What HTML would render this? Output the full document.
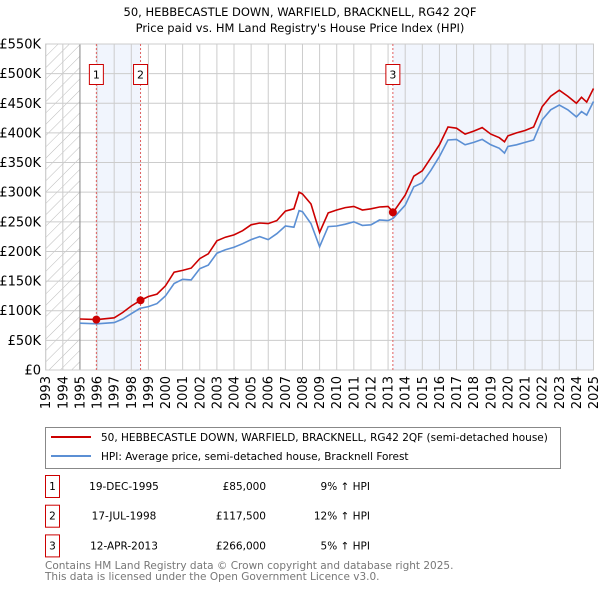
<!DOCTYPE html>
<html><head><meta charset="utf-8"><style>
html,body{margin:0;padding:0;background:#fff;}
svg{display:block;font-family:"DejaVu Sans","Liberation Sans",sans-serif;}
</style></head><body>
<svg id="chart" width="600" height="590" viewBox="0 0 600 590">
<defs>
<pattern id="hatch" patternUnits="userSpaceOnUse" width="8" height="8" patternTransform="rotate(45)">
<line x1="0" y1="0" x2="0" y2="8" stroke="#bbb" stroke-width="1"/>
</pattern>
</defs>
<text x="300" y="16" text-anchor="middle" font-size="11.5">50, HEBBECASTLE DOWN, WARFIELD, BRACKNELL, RG42 2QF</text>
<text x="300" y="32" text-anchor="middle" font-size="11.5">Price paid vs. HM Land Registry's House Price Index (HPI)</text>
<g id="plot"></g>
<g id="legend">
<rect x="45.5" y="427.5" width="515" height="41" fill="#fff" stroke="#888"/>
<line x1="51" y1="437" x2="91" y2="437" stroke="#cc0000" stroke-width="2"/>
<text x="101" y="441" font-size="10.5">50, HEBBECASTLE DOWN, WARFIELD, BRACKNELL, RG42 2QF (semi-detached house)</text>
<line x1="51" y1="456" x2="91" y2="456" stroke="#5b8fd4" stroke-width="2"/>
<text x="101" y="460" font-size="10.5">HPI: Average price, semi-detached house, Bracknell Forest</text>
</g>
<g id="table"></g>
<text x="45" y="569" font-size="10.5" fill="#777">Contains HM Land Registry data © Crown copyright and database right 2025.</text>
<text x="45" y="580" font-size="10.5" fill="#777">This data is licensed under the Open Government Licence v3.0.</text>
</svg>
<script>
const years=[1995,1996,1997,1997.5,1998,1998.5,1999,1999.5,2000,2000.5,2001,2001.5,2002,2002.5,2003,2003.5,2004,2004.5,2005,2005.5,2006,2006.5,2007,2007.5,2007.8,2008,2008.5,2009,2009.5,2010,2010.5,2011,2011.5,2012,2012.5,2013,2013.3,2014,2014.5,2015,2015.5,2016,2016.5,2017,2017.5,2018,2018.5,2019,2019.5,2019.8,2020,2020.5,2021,2021.5,2022,2022.5,2023,2023.5,2024,2024.3,2024.6,2025];
const hpiValues=[79,78,80,86,95,104,107,112,125,146,153,152,171,177,197,203,207,213,220,225,220,230,243,241,269,267,247,208,242,243,246,250,244,245,253,252,256,278,309,316,337,360,388,389,380,384,389,380,374,366,377,380,384,388,422,439,447,439,427,436,430,453];
const priceValues=[86,85,88,97,108,117,124,128,142,165,168,172,188,196,218,224,228,235,245,248,247,252,268,272,300,297,280,232,265,270,274,276,270,272,275,276,266,295,327,336,358,380,410,408,398,403,409,398,392,385,395,400,404,410,444,462,472,462,450,460,452,475];
const yTicks=[0,50,100,150,200,250,300,350,400,450,500,550];
const yTickLabels=["£0","£50K","£100K","£150K","£200K","£250K","£300K","£350K","£400K","£450K","£500K","£550K"];
const xTicks=[1993,1994,1995,1996,1997,1998,1999,2000,2001,2002,2003,2004,2005,2006,2007,2008,2009,2010,2011,2012,2013,2014,2015,2016,2017,2018,2019,2020,2021,2022,2023,2024,2025];
const saleIds=["1","2","3"];
const saleDates=[1995.96,1998.54,2013.28];
const salePrices=[85,117.5,266];
const saleDateLabels=["19-DEC-1995","17-JUL-1998","12-APR-2013"];
const salePriceLabels=["£85,000","£117,500","£266,000"];
const saleHpiLabels=["9% ↑ HPI","12% ↑ HPI","5% ↑ HPI"];

const NS="http://www.w3.org/2000/svg";
const X0=45.7,X1=593.5,Y0=370,Y1=44;
const xOf=y=>X0+(y-1993)*(X1-X0)/32;
const yOf=v=>Y0-v/550*(Y0-Y1);
function mk(parent,tag,attrs,text){const e=document.createElementNS(NS,tag);for(const k in attrs)e.setAttribute(k,attrs[k]);if(text!==undefined)e.textContent=text;parent.appendChild(e);return e;}
const plot=document.getElementById('plot');
let e;
e=mk(plot,'rect',{x:X0,y:Y1,width:X1-X0,height:Y0-Y1,fill:'#fff'});


e=mk(plot,'rect',{x:X0,y:Y1,width:xOf(1995)-X0,height:Y0-Y1,fill:'url(#hatch)'});


e=mk(plot,'rect',{x:xOf(saleDates[0]),y:Y1,width:xOf(saleDates[1])-xOf(saleDates[0]),height:Y0-Y1,fill:'#eef3fc',opacity:0.8});


e=mk(plot,'rect',{x:xOf(saleDates[2]),y:Y1,width:X1-xOf(saleDates[2]),height:Y0-Y1,fill:'#eef3fc',opacity:0.8});


yTicks.forEach((v,i)=>{
 e=mk(plot,'line',{x1:X0,x2:X1,y1:yOf(v),y2:yOf(v),stroke:'#ccc','stroke-width':1});
 
 
 e=mk(plot,'text',{x:41,y:yOf(v)+4.5,'text-anchor':'end','font-size':13},yTickLabels[i]);
 
 
});
xTicks.forEach(t=>{
 e=mk(plot,'line',{x1:xOf(t),x2:xOf(t),y1:Y1,y2:Y0,stroke:'#ccc','stroke-width':1});
 
 
 const x=xOf(t)+4.5;
 e=mk(plot,'text',{x:x,y:376,'text-anchor':'end','font-size':13,transform:`rotate(-90 ${x} 376)`},String(t));
 
 
});
e=mk(plot,'line',{x1:xOf(1995),x2:xOf(1995),y1:Y1,y2:Y0,stroke:'#888','stroke-width':1});


e=mk(plot,'rect',{x:X0,y:Y1,width:X1-X0,height:Y0-Y1,fill:'none',stroke:'#ccc'});


saleDates.forEach((d,i)=>{
 e=mk(plot,'line',{x1:xOf(d),x2:xOf(d),y1:Y1,y2:Y0,stroke:'#e06060','stroke-width':1,'stroke-dasharray':'2,2'});
 
 
});
function path(vals){return vals.map((v,i)=>(i?'L':'M')+xOf(years[i]).toFixed(1)+','+yOf(v).toFixed(1)).join('');}
e=mk(plot,'path',{d:path(hpiValues),fill:'none',stroke:'#5b8fd4','stroke-width':1.6});


e=mk(plot,'path',{d:path(priceValues),fill:'none',stroke:'#cc0000','stroke-width':1.6});


saleDates.forEach((d,i)=>{
 e=mk(plot,'circle',{cx:xOf(d),cy:yOf(salePrices[i]),r:4,fill:'#cc0000'});
 
 
 e=mk(plot,'rect',{x:xOf(d)-7,y:64.5,width:14,height:20,fill:'#fff',stroke:'#cc0000'});
 
 
 e=mk(plot,'text',{x:xOf(d),y:78.5,'text-anchor':'middle','font-size':11},saleIds[i]);
 
 
});
const tbl=document.getElementById('table');
saleIds.forEach((id,i)=>{
 const cy=486+i*29.7;
 e=mk(tbl,'rect',{x:45.5,y:cy-10.5,width:14,height:22,fill:'#fff',stroke:'#cc0000'});
 
 
 e=mk(tbl,'text',{x:52.5,y:cy+4,'text-anchor':'middle','font-size':10.5},id);
 
 
 e=mk(tbl,'text',{x:124,y:cy+4,'text-anchor':'middle','font-size':10.5},saleDateLabels[i]);
 
 
 e=mk(tbl,'text',{x:266,y:cy+4,'text-anchor':'end','font-size':10.5},salePriceLabels[i]);
 
 
 e=mk(tbl,'text',{x:370,y:cy+4,'text-anchor':'end','font-size':10.5},saleHpiLabels[i]);
 
 
});
</script>
</body></html>
